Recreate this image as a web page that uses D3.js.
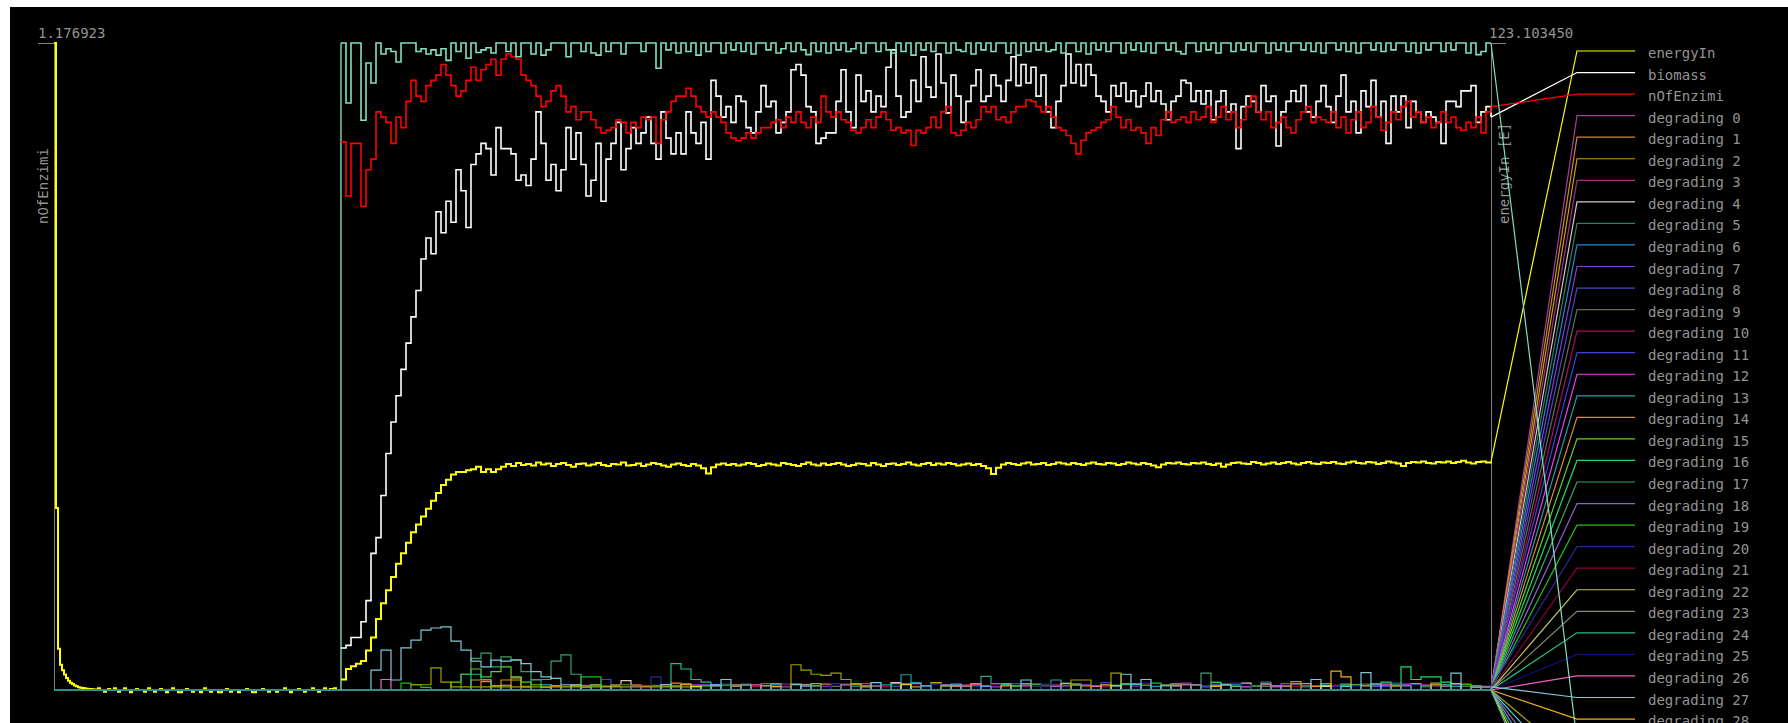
<!DOCTYPE html>
<html>
<head>
<meta charset="utf-8" />
<title>energyIn / biomass / nOfEnzimi</title>
<script src="https://cdn.jsdelivr.net/npm/d3@7"></script>
<style>
    body { margin: 0; background: #ffffff; }
    svg { display: block; }
    svg text { font-family: "DejaVu Sans Mono", monospace; font-size: 14px; fill: #939393; }
</style>
</head>
<body>
<svg id="chart"></svg>
<script>
// ---- data ----
var leftMax = 1.176923;
var mainMax = 123.10345;

// small left panel (nOfEnzimi axis), one value every 2px
var leftEnergy = [1.176923, 0.331, 0.075, 0.046, 0.036, 0.028, 0.022, 0.017, 0.013, 0.011,
    0.008, 0.007, 0.005, 0.004, 0.0036, 0.003, 0.0025, 0.002, 0.002, 0.0015,
    0.001, 0, 0.003, 0, 0, -0.003, 0, 0.002, 0, 0,
    0.003, 0, -0.003, 0, 0, 0.003, 0, 0, -0.004, 0,
    0, 0.002, 0, 0, 0, -0.003, 0, 0.003, 0, 0,
    -0.003, 0, 0, 0.002, 0, 0, -0.004, 0, 0, 0.003,
    0, 0, -0.004, -0.004, 0, 0, 0.002, 0, 0, -0.003,
    0, 0, 0, -0.004, 0, 0.003, 0, 0, -0.003, 0,
    0, 0, -0.004, -0.004, 0, 0, 0.002, 0, -0.003, 0,
    0, 0, -0.004, 0, 0, 0, 0.002, 0, 0, -0.004,
    -0.004, 0, 0, 0, 0.002, 0, 0, -0.003, 0, 0,
    0, -0.003, 0, 0, 0, 0.003, 0, 0, -0.004, 0,
    0, 0, 0.002, 0, 0, -0.003, 0, 0, 0, 0.003,
    0, 0, -0.003, 0, 0, 0.003, 0, 0, 0.002, 0,
    0.003, 0, 0, 0];

// main panel, one value every 5px
var energyIn = [2, 4, 4.5, 5, 5.5, 7.5, 10, 13.5, 16.5, 19,
    21.5, 24, 26, 28, 30, 31.5, 33, 34.5, 36, 37.5,
    39, 40, 41, 41.5, 41.5, 41.8, 42, 42.5, 41.5, 42,
    41.5, 42, 42.5, 43, 42.6, 43.2, 42.8, 43, 42.7, 43.3,
    42.9, 43.1, 42.6, 43, 43.2, 42.8, 42.5, 43, 43.1, 42.7,
    42.9, 43.2, 42.8, 42.6, 43, 42.9, 43.3, 42.7, 42.8, 43.1,
    42.6, 42.9, 43.2, 43, 42.7, 42.5, 42.9, 43.1, 42.8, 42.6,
    43, 42.7, 42.2, 41.2, 42.4, 42.9, 43.1, 42.8, 43, 42.7,
    42.9, 43.2, 43, 42.6, 42.8, 43.1, 42.9, 42.7, 43.2, 43,
    42.8, 42.6, 43, 43.3, 42.9, 42.7, 43.1, 42.8, 43, 43.2,
    42.9, 42.6, 42.8, 43.1, 43, 42.7, 43.2, 42.9, 42.6, 43,
    43.1, 42.8, 43, 43.3, 42.9, 42.7, 43, 43.2, 42.8, 43.1,
    42.9, 43.2, 43, 42.7, 42.9, 43.1, 42.8, 43, 42.6, 42.2,
    41.1, 42.3, 42.9, 43.2, 43, 42.8, 43.1, 43.3, 42.9, 43,
    43.2, 42.8, 43, 43.3, 43.1, 42.9, 43.2, 43, 42.8, 43.1,
    43.3, 43, 42.9, 43.2, 43.1, 42.8, 43, 43.3, 43.1, 42.9,
    43.2, 43, 42.7, 42.4, 42.9, 43.2, 43.1, 43.3, 43, 42.9,
    43.2, 43.1, 43.3, 43, 42.8, 43.1, 42.5, 42.9, 43.2, 43.3,
    43.1, 43, 43.4, 43.2, 42.9, 43.1, 43.3, 43, 43.2, 43.4,
    43.1, 42.9, 43.2, 43.4, 43.1, 43, 43.3, 43.2, 43.4, 43.1,
    43, 43.3, 43.5, 43.2, 43.1, 43.4, 43.3, 43, 43.2, 43.5,
    43.3, 43.1, 42.6, 43.2, 43.4, 43.3, 43.5, 43.2, 43.1, 43.4,
    43.3, 43.5, 43.2, 43.4, 43.6, 43.3, 43.1, 43.4, 43.5, 43.3,
    43.4];

var biomass = [8, 8.5, 10, 10, 13, 17, 26, 29, 37, 45,
    51, 56, 61, 66, 71, 76, 82, 86, 83, 91,
    87, 93, 89, 99, 95, 88, 100, 102, 104, 103,
    98, 107, 103, 103, 102, 97, 98, 96, 101, 110,
    104, 97, 100, 95, 99, 107, 101, 106, 100, 94,
    97, 104, 93, 101, 104, 108, 99, 103, 107, 104,
    106, 109, 104, 101, 110, 105, 102, 106, 102, 110,
    106, 104, 108, 101, 116, 113, 109, 111, 108, 113,
    112, 107, 106, 110, 115, 111, 112, 106, 108, 110,
    118, 119, 117, 111, 110, 104, 105, 106,
    106, 112, 118, 110, 107, 117, 112, 114, 110, 113,
    111, 118.5, 121.8, 113, 109, 110, 116, 112, 120.5, 114.7,
    112.8, 121, 115.5, 109.8, 117, 113, 108, 112, 115, 118,
    112, 113, 117, 115, 112, 116, 120.5, 115, 119, 115.5,
    118.5, 113, 117, 110, 107, 112, 115, 121, 115.5, 119,
    115, 119, 117, 113, 112, 110, 115, 113, 115.5, 112,
    114, 111, 113, 115.5, 112, 114, 111.5, 108.5, 112, 113,
    116, 115.5, 112, 114, 111.5, 114, 108.5, 112, 114, 110,
    111.5, 103, 111, 113, 112, 110, 115, 112, 113, 103.5,
    110, 112, 114, 112, 115, 110, 109, 112,
    115, 111, 108, 113, 117, 110, 112, 106, 114, 111,
    116, 109, 112, 104, 113, 110, 113, 107, 112, 110,
    108, 110, 109, 108, 104, 112, 112, 111, 114, 114,
    115, 108, 110, 111, 109];

var nOfEnzimi = [104.3, 94, 104, 104, 92, 99, 101, 110, 109, 108,
    104, 109, 107, 112, 116, 113, 112, 115, 116, 117,
    119, 117, 115, 113, 114, 116, 118.5, 116, 118, 119,
    120, 117, 120, 121, 120.5, 120, 117, 116, 115, 113,
    111, 112, 114, 115, 113, 110, 111, 108.5, 110, 110,
    108.5, 107, 106, 106.5, 107, 108.5, 108, 106, 108, 107,
    109, 108.5, 109, 104, 108.5, 110, 112, 113, 113, 114.5,
    113, 111, 110, 109, 110, 109, 108, 106, 105, 104.5,
    105, 106, 105, 106, 107, 107, 108, 108.5, 107, 109,
    108, 110, 108, 107, 109, 108, 113, 110,
    109, 110, 108.5, 108, 106.5, 106, 107, 108.5, 107, 109,
    110, 108.5, 106.5, 107, 106, 106.5, 103.6, 106.5, 106, 107,
    109, 107, 110, 111, 106, 105.5, 106.5, 108, 107, 108.5,
    111, 110, 111, 108.5, 109, 108, 110, 111, 111, 112.3,
    112, 111, 110, 111, 109, 107, 106.5, 105.5, 104, 102,
    104.6, 106, 106.5, 107, 108, 108.5, 111, 109, 107, 108.5,
    106.5, 107, 106, 104, 107, 105.5, 108.5, 110, 108, 108.5,
    109, 108, 110, 108.5, 109, 111, 108, 109, 111, 108.5,
    110, 107, 108.5, 111, 113, 110, 108.5, 110, 107, 108,
    109, 107, 106, 108.5, 110, 111, 108, 109,
    108.5, 108, 110, 107, 109, 106, 108.5, 110, 107, 108,
    111, 109, 106.5, 108, 110, 108.5, 111, 112, 109, 110,
    108, 109, 107, 108, 110, 108, 109, 107, 106.5, 108,
    107, 109, 106, 110, 111];

// degrading series, one value every 10px
var degrading0 = [0,0,0,0,0,0,0,0,0,0, 0,0,0,0,0,0,0,0,0,0, 0,0,0,0,0,0,0,.8,0,0, 0,0,0,0,0,1,0,0,0,0, 0,0,0,0,.6,0,0,0,0,0, 0,0,1.2,0,0,0,0,0,0,0, 0,.7,0,0,0,0,0,0,1,0, 0,0,0,0,0,0,.8,0,0,0, 0,0,0,0,1.3,0,0,0,0,0, 0,0,0,.6,0,0,0,0,0,0, 0,1,0,0,0,0,0,0,0,.8, 0,0,0,0,.5,0];
var degrading1 = [0,0,0,0,0,0,0,0,0,0, 0,0,0,0,0,.8,0,0,0,0, 0,0,0,0,0,0,0,0,0,1, 0,0,0,0,0,0,0,0,0,.7, 0,0,0,0,0,0,0,0,1.1,0, 0,0,0,0,0,0,0,.6,0,0, 0,0,0,0,0,0,1.2,0,0,0, 0,0,0,0,0,.7,0,0,0,0, 0,0,0,0,0,0,0,0,1,0, 0,0,0,0,0,1.6,0,0,0,0, 0,0,0,0,.8,0,0,0,0,0, 0,0,0,.6,0,0];
var degrading2 = [0,0,0,0,0,0,0,0,0,0, 0,0,0,1.9,1.9,.8,1.9,1.9,.6,0, 0,0,0,0,0,1,0,0,0,0, 0,0,0,1.3,0,0,0,0,0,0, 0,.7,0,0,0,0,0,0,0,0, 1,0,0,0,0,0,0,0,0,1.4, 0,0,0,0,0,0,0,.8,0,0, 0,0,0,0,0,0,0,0,0,1.1, 0,0,0,0,0,0,0,.7,0,0, 0,0,0,0,0,0,1.2,0,0,0, 0,0,0,0,0,.8,0,0,0,0, 0,0,1,0,0,0];
var degrading3 = [0,0,0,0,0,0,0,0,0,0, 0,0,0,0,0,0,0,0,0,0, 0,0,.7,0,0,0,0,0,0,0, 0,.9,0,0,0,0,0,0,0,0, 1.1,0,0,0,0,0,0,0,0,0, 0,0,0,.7,0,0,0,0,0,0, 0,0,1,0,0,0,0,0,0,0, 0,.8,0,0,0,0,0,0,0,0, 1.2,0,0,0,0,0,0,0,0,0, 0,.7,0,0,0,0,0,0,0,.9, 0,0,0,0,0,0,0,0,1,0, 0,0,0,0,0,.3];
var degrading4 = [0,0,0,0,0,0,0,0,0,0, 0,0,0,0,0,0,0,0,0,0, 0,0,0,0,0,0,0,0,1.8,0, 0,0,0,0,0,0,0,.8,0,0, 0,0,0,0,0,0,1,0,0,0, 0,0,0,0,0,1.4,0,0,0,0, 0,0,0,0,.7,0,0,0,0,0, 0,0,0,1.1,0,0,0,0,0,0, 0,0,0,.8,0,0,0,0,0,0, 1.3,0,0,0,0,0,0,0,.7,0, 0,0,0,0,0,0,0,1.1,0,0, 0,0,0,0,0,0];
var degrading5 = [0,0,0,0,0,0,0,0,0,0, 0,0,0,0,0,0,0,0,0,0, 1,0,0,0,0,0,0,0,0,0, .8,0,0,0,0,0,0,0,0,0, 0,0,1.2,0,0,0,0,0,0,0, 0,.7,0,0,0,0,0,0,0,0, 1,0,0,0,0,0,0,0,0,.8, 0,0,0,0,0,0,0,0,1.2,0, 0,0,0,0,0,0,.6,0,0,0, 0,0,1.5,0,0,0,0,0,0,0, .9,0,0,0,0,0,0,0,0,0, .7,0,0,0,0,0];
var degrading6 = [0,0,0,0,0,0,0,0,0,0, 0,0,0,0,0,0,0,0,0,0, 0,0,0,0,.9,0,0,0,0,0, 0,0,0,0,1.2,0,0,0,0,0, 0,0,0,.6,0,0,0,0,0,0, 0,0,0,0,1,0,0,0,0,0, 0,0,0,.8,0,0,0,0,0,0, 0,0,1.3,0,0,0,0,0,0,0, 0,.7,0,0,0,0,0,0,0,1, 0,0,0,0,0,0,0,.8,0,0, 0,0,0,0,0,0,1.1,0,0,0, 0,0,0,0,.6,0];
var degrading7 = [0,0,0,0,0,0,0,0,0,0, 0,0,0,0,0,0,0,0,0,0, 0,0,0,0,0,0,.7,0,0,0, 0,0,0,0,0,0,1,0,0,0, 0,0,0,0,0,0,0,.8,0,0, 0,0,0,0,0,0,1.1,0,0,0, 0,0,0,0,0,.6,0,0,0,0, 0,0,0,0,1,0,0,0,0,0, 0,0,0,0,0,.9,0,0,0,0, 0,0,0,0,1.2,0,0,0,0,0, 0,0,0,.7,0,0,0,0,0,0, 0,1,0,0,0,0];
var degrading8 = [0,0,0,0,0,0,0,0,0,0, 0,0,0,0,0,0,0,0,0,0, 0,0,0,1,0,0,0,0,0,0, 0,0,.7,0,0,0,0,0,0,0, 0,0,0,0,0,1,0,0,0,0, 0,0,0,0,0,0,0,0,.8,0, 0,0,0,0,0,0,0,1.2,0,0, 0,0,0,0,0,0,0,.7,0,0, 0,0,0,0,0,0,0,1,0,0, 0,0,0,0,0,0,.6,0,0,0, 0,0,0,0,0,1.3,0,0,0,0, 0,0,0,.8,0,0];
var degrading9 = [0,0,0,0,0,0,0,0,0,0, 0,0,0,0,0,0,0,0,0,0, 0,.8,0,0,0,0,0,0,0,0, 0,0,0,0,0,0,0,0,1,0, 0,0,0,0,0,0,0,0,0,.7, 0,0,0,0,0,0,0,0,0,1.1, 0,0,0,0,0,0,0,0,0,0, .8,0,0,0,0,0,0,0,0,0, 0,0,1,0,0,0,0,0,0,0, 0,0,.7,0,0,0,0,0,0,0, 0,0,1.1,0,0,0,0,0,0,0, 0,0,.7,0,0,0];
var degrading10 = [0,0,0,0,0,0,0,0,0,0, 0,0,0,0,0,0,0,0,0,0, 0,0,0,0,0,0,0,0,0,.9, 0,0,0,0,0,0,0,0,0,0, 0,.7,0,0,0,0,0,0,0,0, 1.1,0,0,0,0,0,0,0,0,0, 0,.8,0,0,0,0,0,0,0,0, 0,1,0,0,0,0,0,0,0,.7, 0,0,0,0,0,0,0,0,1.2,0, 0,0,0,0,0,0,0,0,0,.8, 0,0,0,0,0,0,0,0,.6,0, 0,0,0,0,0,0];
var degrading11 = [0,0,0,0,0,0,0,0,0,0, 0,0,0,0,0,0,0,0,0,0, 0,0,0,0,0,0,2,0,0,0, 0,0,0,0,0,.8,0,0,0,0, 0,0,0,0,1.1,0,0,0,0,0, 0,0,0,0,0,.7,0,0,0,0, 0,0,0,0,0,0,1,0,0,0, 0,0,0,0,0,0,1.4,0,0,0, 0,0,0,0,0,0,.8,0,0,0, 0,0,0,0,0,1,0,0,0,0, 0,0,0,0,.7,0,0,0,0,0, 0,0,0,0,0,.4];
var degrading12 = [0,0,0,0,0,0,0,0,0,0, 0,0,0,0,0,0,0,0,0,0, 0,0,0,0,.8,0,0,0,0,0, 0,0,0,0,0,0,0,1,0,0, 0,0,0,0,0,0,0,0,.7,0, 0,0,0,0,0,0,0,1.2,0,0, 0,0,0,0,0,0,0,0,.8,0, 0,0,0,0,0,0,0,0,1,0, 0,0,0,0,0,0,0,0,0,0, .6,0,0,0,0,0,0,0,0,0, 1.1,0,0,0,0,0,0,0,0,0, .8,0,0,0,0,0];
var degrading13 = [0,0,0,0,0,0,0,0,0,0, 0,0,0,0,0,0,0,0,0,2, 1,0,0,0,0,0,0,0,0,0, 0,.8,0,0,0,0,0,0,0,0, 0,0,0,1,0,0,0,0,0,0, 0,0,0,0,0,0,2.9,1.4,0,0, 0,0,0,0,.8,0,0,0,0,0, 0,1.9,0,0,0,0,0,0,0,0, 0,0,0,0,1,0,0,0,0,0, 0,0,0,.8,0,0,0,0,0,0, 0,0,0,1.2,0,0,0,0,0,0, 0,.7,0,0,0,0];
var degrading14 = [0,0,0,0,0,0,0,0,0,0, 0,0,0,0,1.6,0,0,2.3,0,0, 0,0,0,0,0,0,0,.8,0,0, 0,0,0,0,0,0,0,0,0,1, 0,0,0,0,0,0,0,0,0,0, 0,0,.7,0,0,0,0,0,0,0, 0,0,0,1.1,0,0,0,0,0,0, 0,0,0,0,.8,0,0,0,0,0, 0,0,0,0,0,1,0,0,0,0, 0,0,0,0,0,0,0,.7,0,0, 0,0,0,0,0,0,0,1.2,0,0, 0,0,0,0,0,0];
var degrading15 = [0,0,0,0,0,0,0,0,0,0, 0,1.5,3,4,2.5,3.5,4.4,2.5,1.5,1, .5,0,0,0,0,0,0,0,1,0, 0,0,0,0,0,0,.8,0,0,0, 0,0,0,0,0,0,0,1.2,0,0, 0,0,0,0,0,0,0,0,.7,0, 0,0,0,0,0,0,0,0,0,1.1, 0,0,0,0,0,0,0,0,0,0, .9,0,0,0,0,0,0,0,0,.7, 0,0,0,0,0,0,0,0,0,0, 0,1,0,0,0,0,0,0,0,1.3, 0,0,0,0,0,0];
var degrading16 = [0,0,0,0,0,0,0,0,0,0, 0,0,0,0,0,0,0,0,0,0, 0,0,0,0,0,0,0,0,0,0, 0,0,0,.8,0,0,0,0,0,0, 0,0,0,0,0,1,0,0,0,0, 0,0,0,0,.7,0,0,0,0,0, 0,0,0,0,0,0,1.1,0,0,0, 0,0,0,0,0,0,0,.8,0,0, 0,0,0,0,0,0,0,1.4,0,0, 0,0,0,0,0,0,0,0,.9,0, 0,0,0,0,1.5,0,4.4,2,2.5,2.5, 1.5,0,0,.8,0,0];
var degrading17 = [0,0,0,0,0,0,0,0,0,0, 0,0,3,6,7,4.4,6.3,5.8,3.5,1.9, 2,5.5,6.7,3,.5,0,0,0,0,0, 0,0,0,0,0,0,0,0,0,0, 1,0,0,0,0,0,0,0,0,0, 0,0,0,.8,0,0,0,0,0,0, 0,0,0,0,2.6,1.2,0,0,0,0, 0,0,0,0,0,.8,0,0,0,0, 0,0,0,0,0,0,3.2,1.5,0,0, 0,0,0,0,0,0,.8,0,0,0, 0,0,0,0,0,1,0,0,0,0, 0,0,0,0,0,0];
var degrading18 = [0,0,0,0,0,0,0,0,0,0, 0,0,0,0,0,0,0,0,0,0, 0,0,0,0,0,.8,0,0,0,0, 0,0,0,0,1.1,0,0,0,0,0, 0,0,0,0,0,0,.7,0,0,0, 0,0,0,0,0,0,0,0,0,0, 1,0,0,0,0,0,0,0,0,0, 0,0,.8,0,0,0,0,0,0,0, 0,0,0,1.2,0,0,0,0,0,0, 0,0,0,0,.7,0,0,0,0,0, 0,0,0,0,0,0,1,0,0,0, 0,0,0,0,.7,0];
var degrading19 = [0,0,0,0,0,0,1.3,1,.5,0, 0,0,0,0,0,0,0,0,0,0, 0,0,0,0,2.5,2.5,0,0,0,0, 0,0,0,0,0,0,0,0,.9,0, 0,0,0,0,0,0,0,0,0,0, 0,1.2,0,0,0,0,0,0,0,0, 0,0,.8,0,0,0,0,0,0,0, 0,0,0,1,0,0,0,0,0,0, 0,1.3,0,0,0,0,0,0,0,0, 0,.8,0,0,0,0,0,0,0,0, 1,0,0,0,0,0,0,0,0,0, 0,0,1.1,0,0,0];
var degrading20 = [0,0,0,0,0,0,0,0,0,0, 0,0,0,0,0,0,0,0,0,0, 0,0,0,0,0,0,0,0,0,0, 0,2.5,0,0,0,0,0,0,0,0, 0,0,.9,0,0,0,0,0,0,1.2, 0,0,0,0,0,0,0,0,.7,0, 0,0,0,0,0,0,0,0,0,0, 1.1,0,0,0,0,0,0,0,0,.8, 0,0,0,0,0,0,0,0,0,1.3, 0,0,0,0,0,0,0,0,0,.7, 0,0,0,0,0,0,0,1,0,0, 0,0,0,0,0,.5];
var degrading21 = [0,0,0,0,0,0,0,0,0,0, 0,0,0,0,0,0,0,0,0,0, 0,0,0,0,0,0,0,0,0,0, .8,0,0,0,0,0,0,0,0,0, 0,0,0,0,1,0,0,0,0,0, 0,0,0,0,.7,0,0,0,0,0, 0,0,0,0,0,1,0,0,0,0, 0,0,0,0,0,0,.6,0,0,0, 0,0,0,0,0,1,0,0,0,0, 0,0,0,0,0,.7,0,0,0,0, 0,0,0,0,0,0,.9,0,0,0, 0,0,0,0,0,0];
var degrading22 = [0,0,0,0,0,0,0,0,0,0, 0,0,0,0,0,0,.9,0,0,0, 0,0,0,1,0,0,0,0,0,0, 0,0,1,0,0,0,0,0,0,0, 0,0,.8,0,0,0,0,0,0,0, 0,1.1,0,0,0,0,0,0,0,0, 0,.8,0,0,0,0,0,0,0,0, 0,0,1.2,0,0,0,0,0,0,0, 0,0,.9,0,0,0,0,0,0,0, 0,0,1,0,0,0,0,0,0,0, 0,0,.8,0,0,0,0,0,0,0, 0,1.2,0,0,0,0];
var degrading23 = [0,0,0,0,0,0,0,0,0,0, 0,0,0,0,0,0,0,0,.7,0, 0,0,0,0,0,0,0,1,0,0, 0,0,0,0,0,0,0,0,0,.8, 0,0,0,0,0,0,0,0,0,0, 1,0,0,0,0,0,0,0,0,0, 0,0,.7,0,0,0,0,0,0,0, 0,0,0,.9,0,0,0,0,0,0, 0,0,0,1,0,0,0,0,0,0, 0,0,0,0,.8,0,0,0,0,0, 0,0,0,1,0,0,0,0,0,0, 0,0,0,0,.6,0];
var degrading24 = [0,0,0,0,0,0,0,0,0,0, 0,0,0,3,2,0,0,0,0,0, 0,0,0,0,0,0,0,0,0,0, 0,0,0,5,4,2,1.5,0,0,0, 0,0,0,0,0,0,.9,0,0,0, 0,0,0,0,0,1.2,0,0,0,0, 0,0,0,0,0,0,0,.8,0,0, 0,0,0,0,0,0,0,0,1.1,0, 0,0,0,0,0,0,0,0,.9,0, 0,0,0,0,0,0,0,0,1.2,0, 0,0,0,0,0,0,0,0,.8,0, 0,0,0,0,0,0];
var degrading25 = [0,0,0,0,0,0,0,0,0,0, 0,0,0,0,0,0,0,0,0,0, 0,0,0,0,0,0,0,0,.9,0, 0,0,0,0,0,0,0,0,1.2,0, 0,0,0,0,0,0,0,0,.8,0, 0,0,0,0,0,0,0,0,0,1, 0,0,0,0,0,0,0,0,0,.8, 0,0,0,0,0,0,0,0,0,0, 1.3,0,0,0,0,0,0,0,0,0, .9,0,0,0,0,0,0,0,0,0, 0,.7,0,0,0,0,0,0,0,0, 1,0,0,0,0,0];
var degrading26 = [0,0,0,0,2,0,0,0,0,0, 0,0,0,0,0,0,0,0,0,0, 0,0,0,0,0,0,0,0,0,0, .7,0,0,0,0,0,0,0,0,0, 0,1,0,0,0,0,0,0,0,0, 0,0,.8,0,0,0,0,0,0,0, 0,0,0,1.2,0,0,0,0,0,0, 0,0,0,0,0,.7,0,0,0,0, 0,0,0,0,1,0,0,0,0,0, 0,0,0,.8,0,0,0,0,0,0, 0,0,0,0,1.1,0,0,0,0,0, 0,0,0,.5,0,0];
var degrading27 = [0,0,0,3.8,7.6,1.9,8,9.5,11.4,11.8, 12,9.3,7.6,5.5,4.4,5.7,5.5,5.7,5,3.5, 2.5,2.2,1,.8,0,0,.7,0,0,0, 0,0,1,0,0,0,0,0,2,0, 0,0,0,0,0,1.1,0,0,0,0, 0,0,0,1.4,0,0,0,0,0,0, .8,0,0,0,0,0,0,0,1.9,0, 0,0,0,0,0,0,0,0,3,0, 2,0,0,0,0,0,0,0,1,0, 0,0,0,0,0,0,0,2,0,0, 0,0,3.3,0,0,0,0,0,0,0, 0,3.2,0,0,0,.6];
var degrading28 = [0,0,0,0,0,0,0,0,0,0, 0,0,0,0,0,0,0,0,0,0, 0,.8,0,0,0,0,0,0,0,0, 0,0,0,0,1,0,0,0,0,0, 0,0,0,.7,0,0,0,0,0,0, 0,0,0,0,0,0,1.1,0,0,0, 0,0,0,0,0,0,.8,0,0,0, 0,0,0,0,0,0,1,0,0,0, 0,0,0,0,0,0,0,.8,0,0, 0,0,0,0,0,0,0,0,0,3.6, 2.5,0,0,0,0,0,0,0,0,1, 0,0,0,0,0,0];
// degrading 29 is the series pinned near the top, one value every 5px
var degrading29 = [123.1, 111.7, 123.1, 123.1, 108.4, 119.3, 115.5, 123.1, 121, 122,
    121.5, 119.5, 123.1, 123.1, 123.1, 121.5, 122, 121, 121.8, 120.8,
    122, 119.8, 123.1, 121.5, 123.1, 120.2, 123.1, 121.3, 121.8, 122.2,
    121.2, 123.1, 123.1, 121.5, 123.1, 120.5, 123.1, 123.1, 121, 123.1,
    120.8, 121.8, 123.1, 123.1, 123.1, 120.5, 123.1, 123.1, 121.5, 123.1,
    121.2, 120.8, 123.1, 121.5, 123.1, 123.1, 121, 123.1, 123.1, 123.1,
    121.5, 123.1, 123.1, 118.3, 123.1, 121.8, 123.1, 121.2, 123.1, 121.5,
    123.1, 120.8, 123.1, 121.5, 123.1, 123.1, 121.2, 123.1, 121.8, 123.1,
    121.5, 123.1, 121, 123.1, 123.1, 121.8, 123.1, 121.2, 122, 123.1,
    121.5, 123.1, 121.8, 120.9, 123.1, 121.5, 123.1, 121.2, 123.1, 121.8,
    123.1, 121.5, 122, 123.1, 121.2, 123.1, 123.1, 121.5, 123.1, 121.8,
    121.2, 123.1, 121.5, 123.1, 120.8, 123.1, 121.8, 123.1, 121.5, 123.1,
    123.1, 121.2, 123.1, 121.8, 121.5, 123.1, 121, 123.1, 121.8, 123.1,
    121.5, 123.1, 123.1, 121.2, 123.1, 120.8, 123.1, 121.5, 123.1, 121.8,
    123.1, 121.5, 121.8, 123.1, 121.2, 123.1, 123.1, 121.5, 123.1, 121,
    123.1, 121.8, 123.1, 121.5, 123.1, 123.1, 121.2, 123.1, 121.8, 123.1,
    121.5, 123.1, 121.2, 123.1, 123.1, 121.8, 123.1, 121.5, 121, 123.1,
    123.1, 121.5, 123.1, 121.8, 123.1, 121.2, 123.1, 123.1, 121.5, 123.1,
    121.8, 123.1, 121.5, 123.1, 123.1, 121.2, 123.1, 121.8, 123.1, 121.5,
    123.1, 123.1, 121.8, 123.1, 121.5, 123.1, 121.2, 123.1, 123.1, 121.8,
    123.1, 121.5, 123.1, 121.2, 123.1, 123.1, 121.8, 123.1, 121.5, 123.1,
    121.8, 123.1, 123.1, 121.5, 123.1, 121.2, 123.1, 121.8, 123.1, 123.1,
    121.5, 123.1, 121.8, 123.1, 123.1, 121.2, 123.1, 120.9, 121.5, 123.1,
    123.1];
var degrading30 = [0,0,0,0,0,0,0,1,1,4.2, 1.5,.6,.6,.6,.6,.6,.6,.6,.6,.6, .6,.6,.6,.6,.6,.6,.6,.6,.6,.6, .6,.6,.6,.6,.6,.6,0,0,0,0, 0,0,0,0,0,4.8,3.8,3,2.8,3.2, 2,1,.6,0,0,0,0,0,0,0, .8,0,0,0,0,0,0,0,0,0, 0,0,0,1.9,1.9,0,0,3.2,1.2,0, 0,0,0,0,0,1,0,0,0,0, 0,0,0,0,0,1.2,0,0,0,0, 0,0,0,0,0,.8,0,0,0,0, 0,0,0,0,0,0];
var degrading31 = [0,0,0,0,0,0,0,0,0,0, 0,0,0,0,0,0,0,0,0,0, 0,0,0,0,0,0,0,0,0,0, 0,0,0,0,0,0,0,1,0,0, 0,0,0,0,0,0,0,0,0,0, 0,0,0,0,0,0,0,0,.8,0, 0,0,0,0,0,0,0,0,0,0, 0,0,0,0,0,0,0,0,0,1.1, 0,0,0,0,0,0,0,0,0,0, 0,0,0,0,0,0,0,0,0,0, .7,0,0,0,0,0,0,0,0,0, 0,0,0,0,0,0];
var degrading32 = [0,0,0,0,0,0,0,0,0,0, 0,0,0,0,0,0,0,0,0,0, 0,0,0,0,0,0,0,0,0,.8, 0,0,0,0,0,0,0,0,0,0, 0,0,0,0,0,0,0,0,0,0, 1,0,0,0,0,0,0,0,0,0, 0,0,0,0,0,0,0,0,0,0, 0,.7,0,0,0,0,0,0,0,0, 0,0,0,0,0,0,0,0,0,0, 0,0,1.2,0,0,0,0,0,0,0, 0,0,0,0,0,0,0,0,0,0, 0,0,0,0,0,0];
var degrading33 = [0,0,0,0,0,0,0,0,0,0, 0,0,0,0,0,0,0,0,0,0, 0,0,0,0,0,0,0,0,0,0, 0,0,0,0,0,0,0,0,0,0, 0,0,0,1.2,0,0,0,0,0,0, 0,0,0,0,0,0,0,0,0,0, 0,0,0,0,.7,0,0,0,0,0, 0,0,0,0,0,0,0,0,0,0, 0,0,0,0,0,1,0,0,0,0, 0,0,0,0,0,0,0,0,0,0, 0,0,0,0,0,0,.8,0,0,0, 0,0,0,0,0,0];
var degrading34 = [0,0,0,0,0,0,0,0,0,0, 0,0,0,0,0,0,0,0,0,0, 0,0,0,0,0,1,0,0,0,0, 0,0,0,0,0,0,0,0,0,0, 0,0,0,0,0,0,0,.8,0,0, 0,0,0,0,0,0,0,0,0,0, 0,0,0,0,0,0,0,0,1.2,0, 0,0,0,0,0,0,0,0,0,0, 0,0,0,0,0,0,0,0,0,.7, 0,0,0,0,0,0,0,0,0,0, 0,0,0,0,0,0,0,0,0,0, 1,0,0,0,0,0];
var degrading35 = [0,0,0,0,0,0,0,0,0,0, 0,0,0,0,0,0,0,0,0,0, 0,0,0,0,0,0,0,0,0,0, 0,0,0,0,0,.7,0,0,0,0, 0,0,0,0,0,0,0,0,0,0, 0,0,0,0,0,0,1,0,0,0, 0,0,0,0,0,0,0,0,0,0, 0,0,0,0,0,0,0,.9,0,0, 0,0,0,0,0,0,0,0,0,0, 0,0,0,0,0,0,0,0,.8,0, 0,0,0,0,0,0,0,0,0,0, 0,0,0,0,0,0];
var degrading36 = [0,0,0,0,0,0,0,0,0,0, 0,0,0,0,0,0,0,0,0,0, 0,0,0,0,0,0,0,0,0,0, 0,0,0,0,0,0,0,0,0,0, .9,0,0,0,0,0,0,0,0,0, 0,0,0,0,0,0,0,0,0,0, 0,1.1,0,0,0,0,0,0,0,0, 0,0,0,0,0,0,0,0,0,0, 0,0,.8,0,0,0,0,0,0,0, 0,0,0,0,0,0,0,0,0,0, 0,0,0,1,0,0,0,0,0,0, 0,0,0,0,0,0];

var degrading = [degrading0, degrading1, degrading2, degrading3, degrading4, degrading5, degrading6,
    degrading7, degrading8, degrading9, degrading10, degrading11, degrading12, degrading13, degrading14,
    degrading15, degrading16, degrading17, degrading18, degrading19, degrading20, degrading21, degrading22,
    degrading23, degrading24, degrading25, degrading26, degrading27, degrading28, degrading29, degrading30,
    degrading31, degrading32, degrading33, degrading34, degrading35, degrading36];

var degColors = ["#a040a0", "#d08a28", "#d0a010", "#a03090", "#e0c4c4", "#2e8060", "#1e8ad0",
    "#8a3ce0", "#4848c0", "#60704a", "#a81060", "#3a44d8", "#f040f0", "#20a0a0", "#e08838",
    "#60d030", "#18e060", "#40a070", "#9060d0", "#20c020", "#282898", "#900040", "#c0c060",
    "#8c8c6c", "#20c088", "#101078", "#f060c0", "#80c8d8", "#f0b020", "#80e0c0", "#a0a000",
    "#40d0d0", "#9a60c0", "#7090e0", "#50c050", "#c0e040", "#60b0b0"];

// ---- layout ----
var w = 1788;
var h = 723;
var panelX = 54;
var plotLeft = 341;
var plotRight = 1491;
var plotTop = 43;
var plotBottom = 690;
var bendX = 1577;
var legendLineEnd = 1635;
var legendTextX = 1648;
var legendTop = 51;
var legendStep = 21.55;

var svg = d3.select("#chart")
    .attr("width", w)
    .attr("height", h);

svg.append("rect")
    .attr("x", 10)
    .attr("y", 7)
    .attr("width", w - 10)
    .attr("height", h - 7)
    .attr("fill", "#000000");

var xLeft = d3.scaleLinear().domain([0, leftEnergy.length - 1]).range([panelX, plotLeft - 1]);
var yLeft = d3.scaleLinear().domain([0, leftMax]).range([plotBottom, plotTop]);
var xMain = d3.scaleLinear().domain([0, 1]).range([plotLeft, plotRight]);
var yMain = d3.scaleLinear().domain([0, mainMax]).range([plotBottom, plotTop]);

function stepPath(values) {
    var n = values.length - 1;
    return d3.line()
        .x(function (d, i) { return xMain(i / n); })
        .y(function (d) { return yMain(d); })
        .curve(d3.curveStepAfter)(values);
}

// axes
var leftAxis = d3.axisLeft(yLeft)
    .tickValues([leftMax])
    .tickSize(16)
    .tickSizeOuter(0)
    .tickFormat(d3.format(".6f"));
var gLeft = svg.append("g")
    .attr("transform", "translate(" + panelX + ",0)")
    .call(leftAxis);
gLeft.selectAll("path, line").attr("stroke", "#808080");
gLeft.selectAll(".tick text")
    .attr("x", -16)
    .attr("dy", -6)
    .attr("text-anchor", "start");

var rightAxis = d3.axisRight(yMain)
    .tickValues([mainMax])
    .tickSize(15)
    .tickSizeOuter(0)
    .tickFormat(d3.format(".6f"));
var gRight = svg.append("g")
    .attr("transform", "translate(" + plotRight + ",0)")
    .call(rightAxis);
gRight.selectAll("path, line").attr("stroke", "#808080");
gRight.selectAll(".tick text")
    .attr("x", -2)
    .attr("dy", -6)
    .attr("text-anchor", "start");

// rotated axis titles
svg.append("text")
    .attr("transform", "translate(48,224) rotate(-90)")
    .text("nOfEnzimi");
svg.append("text")
    .attr("transform", "translate(1509,224) rotate(-90)")
    .text("energyIn [E]");

// left panel curve
svg.append("path")
    .attr("d", d3.line()
        .x(function (d, i) { return xLeft(i); })
        .y(function (d) { return yLeft(d); })
        .curve(d3.curveStepAfter)(leftEnergy))
    .attr("fill", "none")
    .attr("stroke", "#ffff00")
    .attr("stroke-width", 2);

// series list in legend order
var series = [
    {name: "energyIn", color: "#ffff00", values: energyIn, width: 2},
    {name: "biomass", color: "#ffffff", values: biomass, width: 1.6},
    {name: "nOfEnzimi", color: "#ff0000", values: nOfEnzimi, width: 1.6}
];
degrading.forEach(function (v, k) {
    series.push({name: "degrading " + k, color: degColors[k], values: v, width: k == 29 ? 1.6 : 1.2});
});

// low degrading lines first
series.slice(3).forEach(function (s, k) {
    if (k == 29) return;
    svg.append("path")
        .attr("d", stepPath(s.values))
        .attr("fill", "none")
        .attr("stroke", s.color)
        .attr("stroke-width", s.width);
});

// base line and left edge of main plot
svg.append("line")
    .attr("x1", panelX).attr("x2", plotRight)
    .attr("y1", yMain(0)).attr("y2", yMain(0))
    .attr("stroke", "#26928e")
    .attr("stroke-width", 2);
svg.append("line")
    .attr("x1", plotLeft).attr("x2", plotLeft)
    .attr("y1", yMain(0)).attr("y2", yMain(mainMax))
    .attr("stroke", "#78c8b0")
    .attr("stroke-width", 1.5);

[0, 1, 2, 32].forEach(function (k) {
    var s = series[k];
    svg.append("path")
        .attr("d", stepPath(s.values))
        .attr("fill", "none")
        .attr("stroke", s.color)
        .attr("stroke-width", s.width);
});

// legend with connectors from the last value; labels below the window are not drawn
var legend = svg.append("g");
series.forEach(function (s, k) {
    var ly = legendTop + k * legendStep;
    var y0 = yMain(s.values[s.values.length - 1]);
    legend.append("path")
        .attr("d", "M" + xMain(1) + "," + y0 + "L" + bendX + "," + ly + "L" + legendLineEnd + "," + ly)
        .attr("fill", "none")
        .attr("stroke", s.color)
        .attr("stroke-width", 1.2);
    if (ly - 10 < h) {
        legend.append("text")
            .attr("x", legendTextX)
            .attr("y", ly + 7)
            .text(s.name);
    }
});
</script>
</body>
</html>
